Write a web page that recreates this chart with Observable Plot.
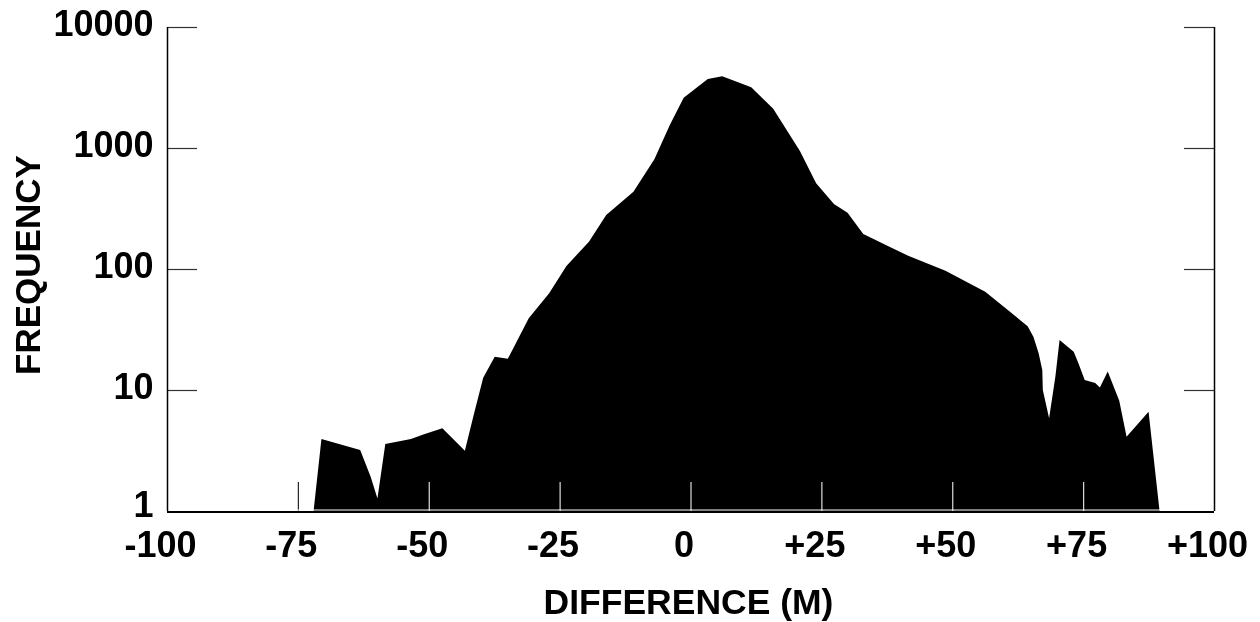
<!DOCTYPE html>
<html>
<head>
<meta charset="utf-8">
<script src="https://cdn.jsdelivr.net/npm/d3@7"></script>
<script src="https://cdn.jsdelivr.net/npm/@observablehq/plot@0.6"></script>
<style>
  html, body { margin: 0; padding: 0; background: #fff; overflow: hidden; }
  #chart svg { display: block; }
</style>
</head>
<body>
<div id="chart"></div>
<script>
// Difference (m) and frequency values
const difference = [-72.0, -70.5, -63.1, -61.1, -59.8, -58.3, -53.4, -50.9, -47.4, -43.1, -41.5, -39.6, -37.4, -34.9, -30.9, -27.0, -23.7, -19.4, -16.1, -10.9, -6.9, -3.95, -1.3, 3.3, 6.05, 11.6, 15.8, 20.9, 24.0, 27.4, 30.0, 33.0, 38.2, 41.7, 48.7, 56.3, 64.4, 65.5, 66.5, 67.2, 67.3, 68.5, 69.7, 70.5, 73.2, 74.1, 75.3, 77.3, 78.2, 79.7, 81.9, 83.3, 87.5, 89.6];
const frequency = [1, 3.94, 3.19, 1.92, 1.27, 3.58, 3.94, 4.30, 4.82, 3.15, 6.02, 12.6, 18.8, 18.1, 39.1, 63.0, 106, 168, 279, 435, 807, 1549, 2606, 3718, 3911, 3176, 2113, 944, 511, 344, 292, 195, 151, 128, 96.8, 64.9, 33.7, 27.6, 20.1, 14.6, 10, 5.84, 12.9, 25.9, 20.7, 16.6, 12.1, 11.4, 10.5, 14.2, 8.16, 4.11, 6.62, 1];

const xTicks = [-100, -75, -50, -25, 0, 25, 50, 75, 100];
const xTickLabels = ["-100", "-75", "-50", "-25", "0", "+25", "+50", "+75", "+100"];
const yTicks = [1, 10, 100, 1000, 10000];
const yTickLabels = ["1", "10", "100", "1000", "10000"];
const xLabel = "DIFFERENCE (M)";
const yLabel = "FREQUENCY";

const data = difference.map((d, i) => ({d, f: frequency[i]}));
const font = "'Liberation Sans', Arial, Helvetica, sans-serif";

const W = 1260, H = 622;
const mL = 167, mR = 46, mT = 27, mB = 111;
const fw = W - mL - mR, fh = H - mT - mB;

const yLabelStyle = {frameAnchor: "left", textAnchor: "end", lineAnchor: "middle", dx: -14, fontSize: 36, fontWeight: "bold", fill: "#000", letterSpacing: "-0.8px"};

const chart = Plot.plot({
  width: W,
  height: H,
  marginLeft: mL,
  marginRight: mR,
  marginTop: mT,
  marginBottom: mB,
  style: {background: "#fff", color: "#000", fontFamily: font},
  x: {domain: [-100, 100], axis: null},
  y: {type: "log", domain: [1, 10000], axis: null},
  marks: [
    Plot.areaY(data, {x: "d", y1: 1, y2: "f", fill: "#000", curve: "linear"}),
    // x ticks (inverted over the area)
    Plot.tickX(xTicks.slice(1, -1), {x: d => d, insetTop: fh - 29, stroke: "#ddd", strokeWidth: 1.2, mixBlendMode: "difference"}),
    // y ticks left and right
    Plot.tickY(yTicks.slice(1), {y: d => d, insetRight: fw - 30, stroke: "#333", strokeWidth: 1.2}),
    Plot.tickY(yTicks.slice(1), {y: d => d, insetLeft: fw - 30, stroke: "#333", strokeWidth: 1.2}),
    // frame lines
    Plot.ruleY([1], {stroke: "#fff", strokeWidth: 1, dy: -1.5}),
    Plot.ruleY([1], {stroke: "#000", strokeWidth: 2, dy: 0.5}),
    Plot.ruleX([-100], {stroke: "#000", strokeWidth: 1.5}),
    Plot.ruleX([100], {stroke: "#000", strokeWidth: 1.5}),
    // tick labels
    Plot.text(yTicks.slice(1), {...yLabelStyle, y: d => d, text: (d, i) => yTickLabels[i + 1], dy: -3}),
    Plot.text(yTicks.slice(0, 1), {...yLabelStyle, y: d => d, text: (d, i) => yTickLabels[i], dy: -6}),
    Plot.text(xTicks, {x: d => d, text: (d, i) => xTickLabels[i], frameAnchor: "bottom", textAnchor: "middle", lineAnchor: "middle", dx: -7, dy: 34, fontSize: 36, fontWeight: "bold", fill: "#000", letterSpacing: "-0.8px"}),
    // axis titles
    Plot.text([xLabel], {frameAnchor: "bottom", text: d => d, textAnchor: "middle", lineAnchor: "middle", dx: -2.5, dy: 91, fontSize: 35.5, fontWeight: "bold", fill: "#000"}),
    Plot.text([yLabel], {frameAnchor: "left", text: d => d, rotate: -90, textAnchor: "middle", lineAnchor: "middle", dx: -138.5, dy: -4.5, fontSize: 35, fontWeight: "bold", fill: "#000"})
  ]
});

document.getElementById("chart").appendChild(chart);
</script>
</body>
</html>
